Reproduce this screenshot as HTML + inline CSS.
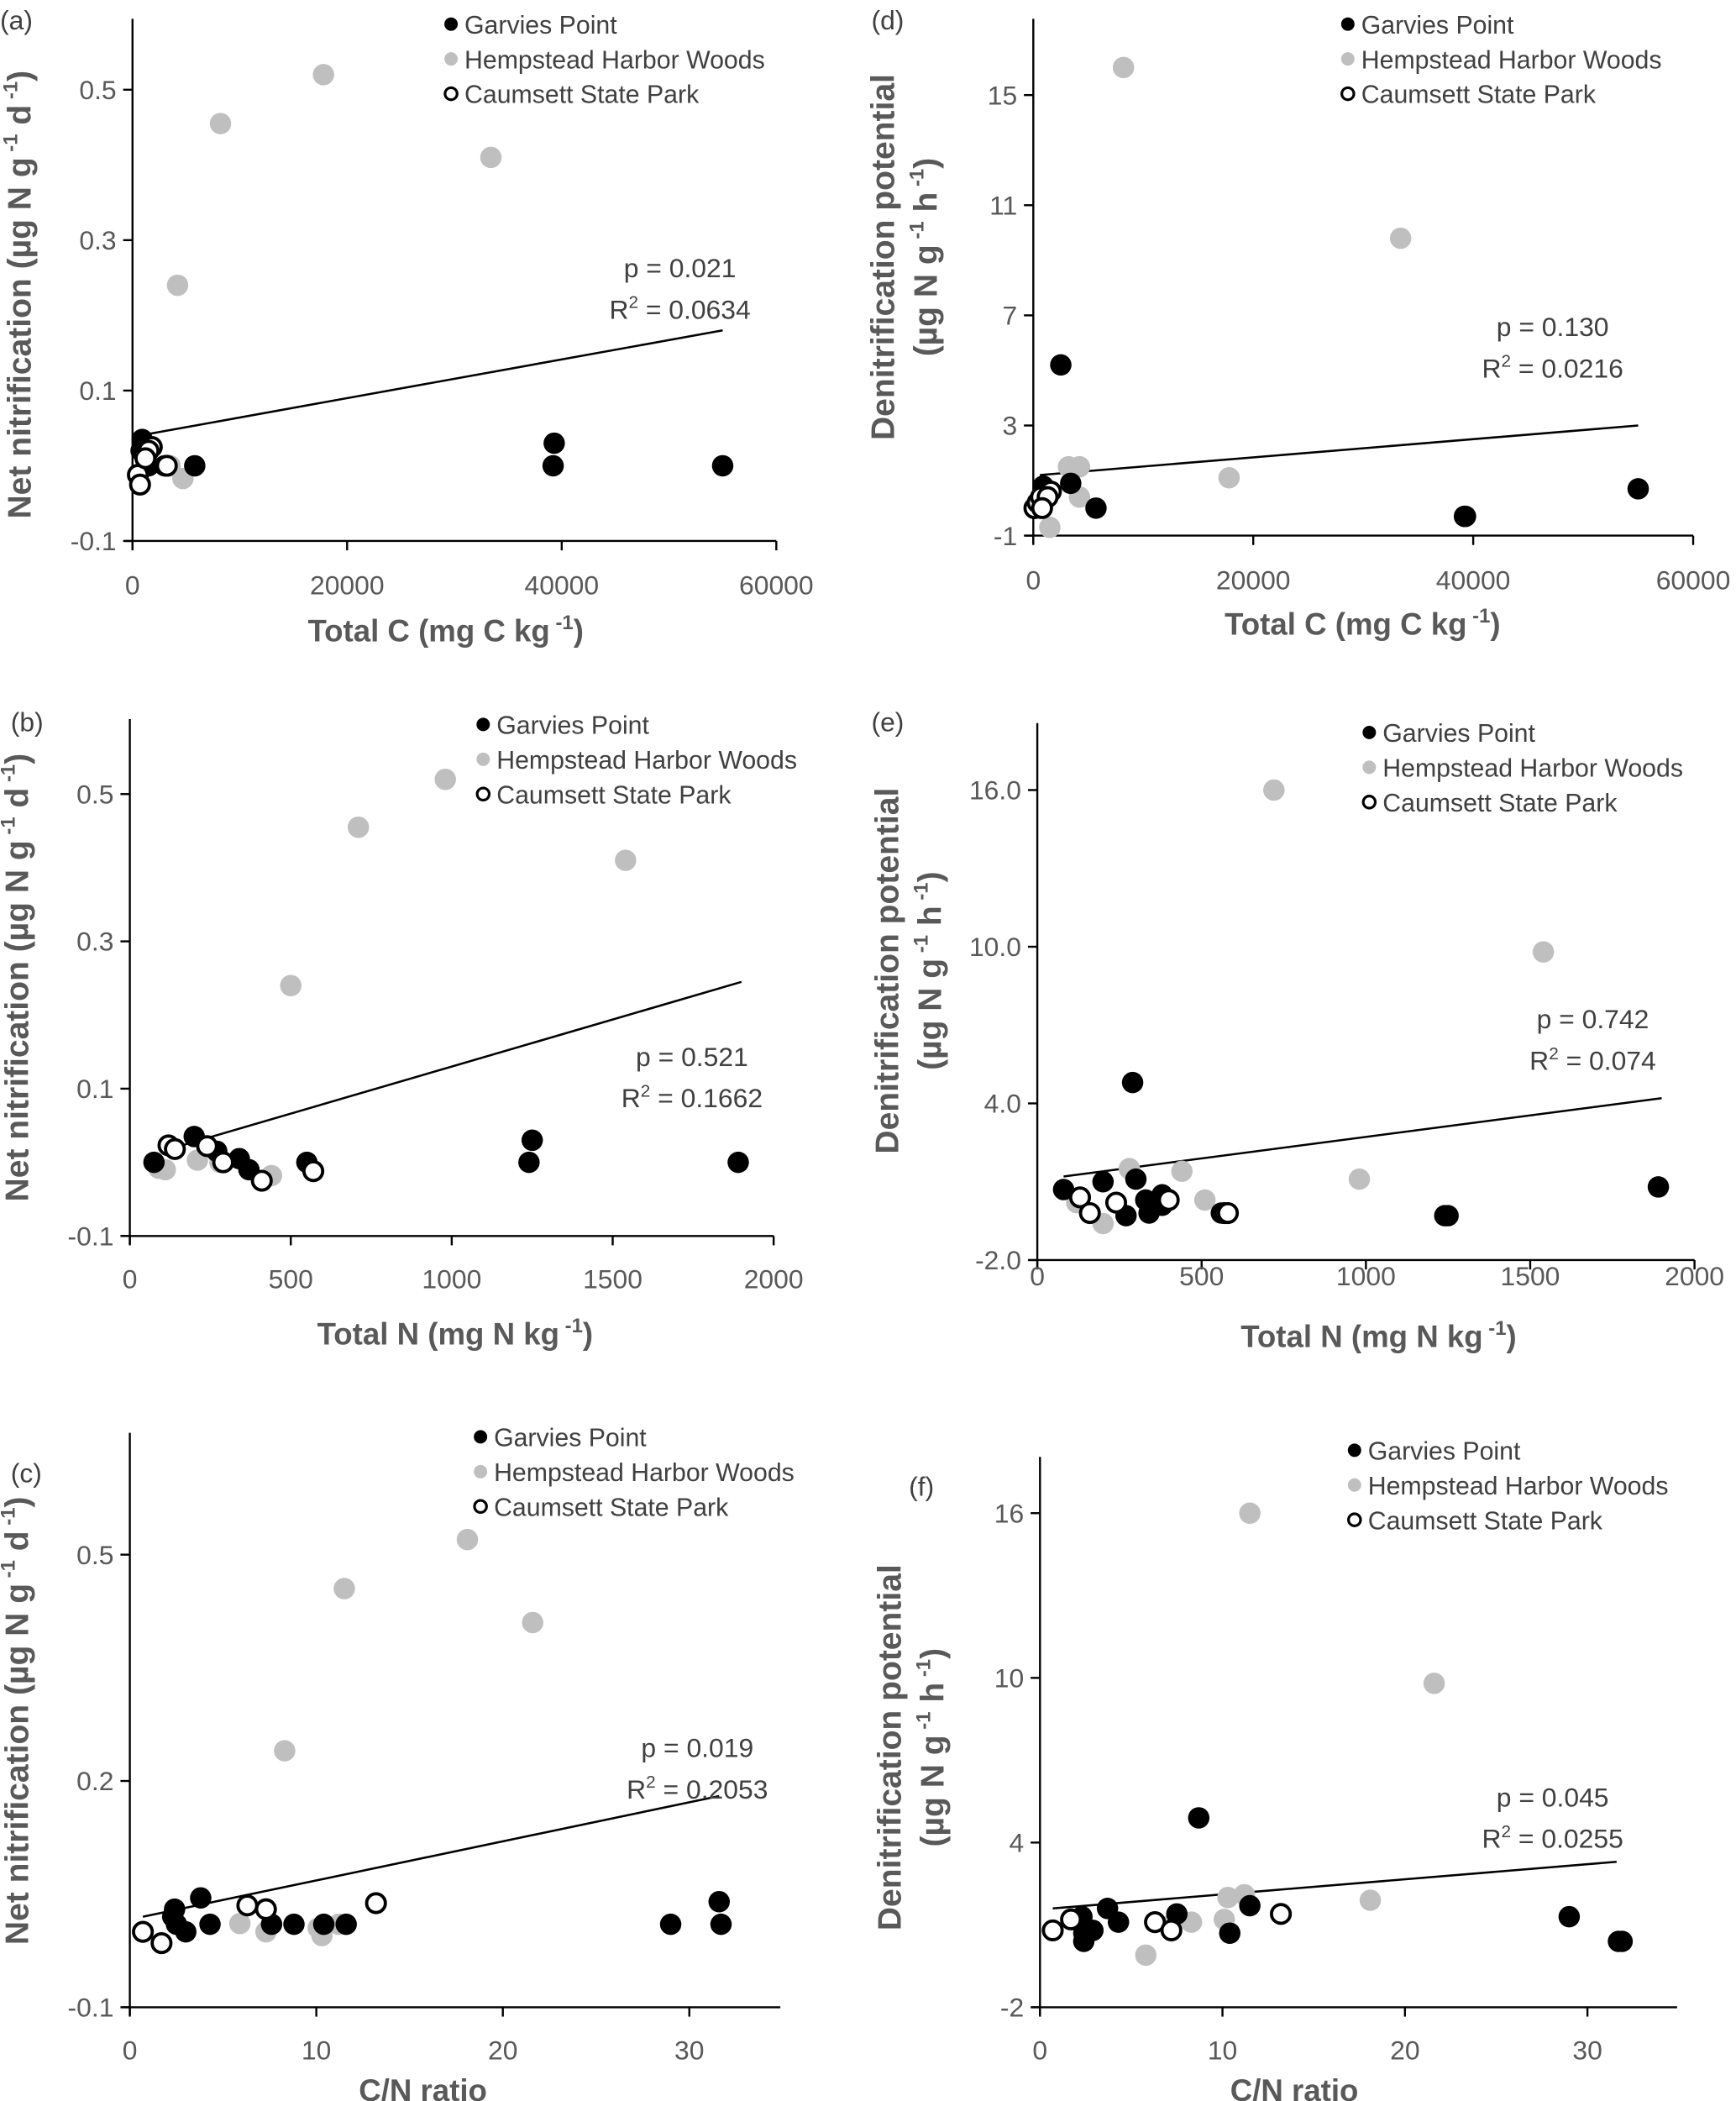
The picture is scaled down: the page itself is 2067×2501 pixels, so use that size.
<!DOCTYPE html>
<html><head><meta charset="utf-8">
<style>
html,body{margin:0;padding:0;background:#fff;}
svg{display:block;font-family:"Liberation Sans",sans-serif;}
</style></head>
<body>
<svg id="fig" width="2067" height="2501" viewBox="0 0 1297 1569" preserveAspectRatio="none" xmlns="http://www.w3.org/2000/svg"></svg>
<script>
// ---- Data (a): Total C vs Net nitrification
const aGarvies=[[39300,0.03],[39200,0.0],[55000,0.0],[5800,0.0],[900,0.035],[800,0.02],[3000,0.0],[1500,0.0]];
const aHemp=[[17800,0.52],[8200,0.455],[33400,0.41],[4200,0.24],[4700,-0.017],[3500,0.0],[1500,0.0]];
const aCaum=[[500,-0.012],[700,-0.025],[1800,0.025],[1500,0.02],[1200,0.01],[3200,0.0]];
const aTrend=[[600,0.04],[55000,0.18]];
// ---- Data (d): Total C vs Denitrification
const dGarvies=[[2500,5.2],[3400,0.9],[5700,0.0],[900,0.8],[800,0.3],[700,0.0],[1200,0.5],[39300,-0.3],[39200,-0.3],[55000,0.7]];
const dHemp=[[8200,16],[33400,9.8],[17800,1.1],[3200,1.5],[4200,1.5],[4200,0.4],[1500,-0.7],[900,0.4]];
const dCaum=[[100,0.0],[400,0.2],[700,0.4],[1600,0.6],[1300,0.4],[800,0.0]];
const dTrend=[[600,1.2],[55000,3.0]];
// ---- Data (b): Total N vs Net nitrification
const bGarvies=[[75,0.0],[200,0.035],[270,0.015],[340,0.005],[370,-0.01],[550,0.0],[1240,0.0],[1250,0.03],[1890,0.0],[290,0.0]];
const bHemp=[[980,0.52],[710,0.455],[1540,0.41],[500,0.24],[90,-0.008],[110,-0.01],[210,0.003],[280,0.0],[440,-0.018]];
const bCaum=[[120,0.023],[140,0.018],[240,0.022],[290,0.0],[410,-0.025],[570,-0.012]];
const bTrend=[[100,0.015],[1900,0.245]];
// ---- Data (e): Total N vs Denitrification
const eGarvies=[[290,4.8],[200,1.0],[300,1.1],[80,0.7],[380,0.5],[330,0.3],[350,0.0],[270,-0.3],[340,-0.2],[560,-0.2],[1240,-0.3],[1250,-0.3],[1890,0.8],[380,0.1]];
const eHemp=[[720,16],[1540,9.8],[280,1.5],[440,1.4],[980,1.1],[510,0.3],[200,-0.6],[120,0.2]];
const eCaum=[[130,0.4],[160,-0.2],[240,0.2],[400,0.3],[570,-0.2],[580,-0.2]];
const eTrend=[[80,1.2],[1900,4.2]];
// ---- Data (c): C/N vs Net nitrification
const cGarvies=[[3.8,0.045],[2.4,0.03],[2.3,0.02],[2.5,0.01],[3.0,0.0],[4.3,0.01],[7.6,0.01],[8.8,0.01],[10.4,0.01],[11.6,0.01],[29,0.01],[31.6,0.04],[31.7,0.01]];
const cHemp=[[18.1,0.52],[11.5,0.455],[21.6,0.41],[8.3,0.24],[5.9,0.011],[7.3,0.0],[10.1,0.005],[10.3,-0.005],[11.2,0.01]];
const cCaum=[[0.7,0.0],[1.7,-0.015],[6.3,0.035],[7.3,0.03],[13.2,0.038]];
const cTrend=[[0.7,0.02],[31.6,0.18]];
// ---- Data (f): C/N vs Denitrification
const fGarvies=[[8.7,4.9],[3.7,1.6],[4.3,1.1],[2.3,1.3],[2.4,0.7],[2.9,0.8],[2.4,0.4],[7.5,1.4],[10.4,0.7],[11.5,1.7],[29,1.3],[31.7,0.4],[31.9,0.4]];
const fHemp=[[11.5,16],[21.6,9.8],[10.3,2.0],[11.2,2.1],[18.1,1.9],[10.1,1.2],[8.3,1.1],[5.8,-0.1],[7.2,1.0]];
const fCaum=[[0.7,0.8],[1.7,1.2],[6.3,1.1],[7.2,0.8],[13.2,1.4]];
const fTrend=[[0.7,1.6],[31.6,3.3]];
// ---- Tick labels
const aXTicks=[0,20000,40000,60000], aYTicks=["0.5","0.3","0.1","-0.1"];
const bXTicks=[0,500,1000,1500,2000], bYTicks=["0.5","0.3","0.1","-0.1"];
const cXTicks=[0,10,20,30], cYTicks=["0.5","0.2","-0.1"];
const dXTicks=[0,20000,40000,60000], dYTicks=["15","11","7","3","-1"];
const eXTicks=[0,500,1000,1500,2000], eYTicks=["16.0","10.0","4.0","-2.0"];
const fXTicks=[0,10,20,30], fYTicks=["16","10","4","-2"];
const stats={a:["p = 0.021","0.0634"],b:["p = 0.521","0.1662"],c:["p = 0.019","0.2053"],d:["p = 0.130","0.0216"],e:["p = 0.742","0.074"],f:["p = 0.045","0.0255"]};

const NS="http://www.w3.org/2000/svg";
const svg=document.getElementById('fig');
function mk(tag,attrs,parent,text){const e=document.createElementNS(NS,tag);for(const k in attrs)e.setAttribute(k,attrs[k]);if(text!==undefined)e.textContent=text;(parent||svg).appendChild(e);return e;}

const panels=[
 {id:'a',lab:'(a)',labX:0,labY:22,px0:99,px1:580,xmin:0,xmax:60000,py0:404,py1:67,ymin:-0.1,ymax:0.5,top:14,xend:580,xt:aXTicks,yt:aYTicks.map(Number),ytl:aYTicks,
  G:aGarvies,H:aHemp,C:aCaum,T:aTrend,leg:[337,18],st:[508,200],xtitle:'Total C (mg C kg',xtX:333,xtY:479,ytY:220,twoLine:false,tickY:444},
 {id:'d',lab:'(d)',labX:651,labY:22,px0:772,px1:1265,xmin:0,xmax:60000,py0:400,py1:71,ymin:-1,ymax:15,top:14,xend:1265,xt:dXTicks,yt:dYTicks.map(Number),ytl:dYTicks,
  G:dGarvies,H:dHemp,C:dCaum,T:dTrend,leg:[1007,18],st:[1160,244],xtitle:'Total C (mg C kg',xtX:1018,xtY:474,ytY:192,twoLine:true,tickY:440},
 {id:'b',lab:'(b)',labX:8,labY:546,px0:97,px1:578,xmin:0,xmax:2000,py0:923,py1:593,ymin:-0.1,ymax:0.5,top:537,xend:578,xt:bXTicks,yt:bYTicks.map(Number),ytl:bYTicks,
  G:bGarvies,H:bHemp,C:bCaum,T:bTrend,leg:[361,541],st:[517,789],xtitle:'Total N (mg N kg',xtX:340,xtY:1004,ytY:730,twoLine:false,tickY:962},
 {id:'e',lab:'(e)',labX:651,labY:546,px0:775,px1:1266,xmin:0,xmax:2000,py0:941,py1:590,ymin:-2,ymax:16,top:540,xend:1266,xt:eXTicks,yt:eYTicks.map(Number),ytl:eYTicks,
  G:eGarvies,H:eHemp,C:eCaum,T:eTrend,leg:[1023,547],st:[1190,761],xtitle:'Total N (mg N kg',xtX:1030,xtY:1006,ytY:725,twoLine:true,tickY:960},
 {id:'c',lab:'(c)',labX:8,labY:1107,px0:97,px1:515,xmin:0,xmax:30,py0:1499,py1:1161,ymin:-0.1,ymax:0.5,top:1070,xend:583,xt:cXTicks,yt:[0.5,0.2,-0.1],ytl:cYTicks,
  G:cGarvies,H:cHemp,C:cCaum,T:cTrend,leg:[359,1073],st:[521,1305],xtitle:'C/N ratio',xtX:316,xtY:1569,ytY:1285,twoLine:false,tickY:1538,noSup:true},
 {id:'f',lab:'(f)',labX:679,labY:1117,px0:777,px1:1186,xmin:0,xmax:30,py0:1499,py1:1130,ymin:-2,ymax:16,top:1088,xend:1253,xt:fXTicks,yt:fYTicks.map(Number),ytl:fYTicks,
  G:fGarvies,H:fHemp,C:fCaum,T:fTrend,leg:[1012,1083],st:[1160,1342],xtitle:'C/N ratio',xtX:967,xtY:1569,ytY:1305,twoLine:true,tickY:1538,noSup:true}
];

panels.forEach(p=>{
  const g=mk('g',{});
  
  
  const X=v=>p.px0+(v-p.xmin)/(p.xmax-p.xmin)*(p.px1-p.px0);
  const Y=v=>p.py0+(v-p.ymin)/(p.ymax-p.ymin)*(p.py1-p.py0);
  const pl=mk('text',{x:p.labX,y:p.labY,'font-size':20,fill:'#404040'},g,p.lab);
  
  
  const ya=mk('line',{x1:p.px0,y1:p.top,x2:p.px0,y2:p.py0+6,stroke:'#000','stroke-width':1.5},g);
  
  
  const xa=mk('line',{x1:p.px0-6,y1:p.py0,x2:p.xend,y2:p.py0,stroke:'#000','stroke-width':1.5},g);
  
  
  p.xt.forEach(t=>{
    mk('line',{x1:X(t),y1:p.py0,x2:X(t),y2:p.py0+7,stroke:'#000','stroke-width':1.5},g);
    const tl=mk('text',{x:X(t),y:p.tickY,'font-size':20,fill:'#595959','text-anchor':'middle'},g,String(t));
    
    
  });
  p.yt.forEach((t,i)=>{
    mk('line',{x1:p.px0-7,y1:Y(t),x2:p.px0,y2:Y(t),stroke:'#000','stroke-width':1.5},g);
    const tl=mk('text',{x:p.px0-12,y:Y(t)+7,'font-size':20,fill:'#595959','text-anchor':'end'},g,p.ytl[i]);
    
    
  });
  const tr=mk('line',{x1:X(p.T[0][0]),y1:Y(p.T[0][1]),x2:X(p.T[1][0]),y2:Y(p.T[1][1]),stroke:'#000','stroke-width':1.6},g);
  
  
  const draw=(arr,fill,stroke,name)=>arr.forEach(d=>{
    const c=mk('circle',{cx:X(d[0]),cy:Y(d[1]),r:stroke?7:8,fill:fill,stroke:stroke||'none','stroke-width':2.4},g);
    
    
  });
  draw(p.H,'#bfbfbf',null,'point-hempstead');
  draw(p.G,'#000',null,'point-garvies');
  draw(p.C,'#fff','#000','point-caumsett');
  const names=['Garvies Point','Hempstead Harbor Woods','Caumsett State Park'];
  const styles=[['#000',null],['#bfbfbf',null],['#fff','#000']];
  names.forEach((n,i)=>{
    const ly=p.leg[1]+i*26;
    const m=mk('circle',{cx:p.leg[0],cy:ly,r:styles[i][1]?4.5:5,fill:styles[i][0],stroke:styles[i][1]||'none','stroke-width':2},g);
    
    
    const t=mk('text',{x:p.leg[0]+10,y:ly+7,'font-size':19,fill:'#404040'},g,n);
    
    
  });
  const s1=mk('text',{x:p.st[0],y:p.st[1]+7,'font-size':20,fill:'#404040','text-anchor':'middle'},g,stats[p.id][0]);
  
  
  const s2=mk('text',{x:p.st[0],y:p.st[1]+38,'font-size':20,fill:'#404040','text-anchor':'middle'},g);
  
  
  s2.appendChild(document.createTextNode('R'));
  mk('tspan',{'font-size':13,dy:-8},s2,'2');
  mk('tspan',{dy:8},s2,' = '+stats[p.id][1]);
  const xt=mk('text',{x:p.xtX,y:p.xtY,'font-size':23,'font-weight':'bold',fill:'#595959','text-anchor':'middle'},g);
  
  
  xt.appendChild(document.createTextNode(p.xtitle));
  if(!p.noSup){mk('tspan',{'font-size':15,dy:-9},xt,' -1');mk('tspan',{dy:9},xt,')');}
  if(p.twoLine){
    const y1=mk('text',{x:0,y:0,'font-size':24.5,'font-weight':'bold',fill:'#595959','text-anchor':'middle',transform:`translate(${p.px0-104},${p.ytY}) rotate(-90)`},g,'Denitrification potential');
    
    
    const y2=mk('text',{x:0,y:0,'font-size':24.5,'font-weight':'bold',fill:'#595959','text-anchor':'middle',transform:`translate(${p.px0-72},${p.ytY}) rotate(-90)`},g);
    
    
    y2.appendChild(document.createTextNode('(µg N g'));
    mk('tspan',{'font-size':15,dy:-10},y2,' -1');
    mk('tspan',{dy:10},y2,' h');
    mk('tspan',{'font-size':15,dy:-10},y2,' -1');
    mk('tspan',{dy:10},y2,')');
  } else {
    const y1=mk('text',{x:0,y:0,'font-size':24.5,'font-weight':'bold',fill:'#595959','text-anchor':'middle',transform:`translate(${p.px0-76},${p.ytY}) rotate(-90)`},g);
    
    
    y1.appendChild(document.createTextNode('Net nitrification (µg N g'));
    mk('tspan',{'font-size':15,dy:-10},y1,' -1');
    mk('tspan',{dy:10},y1,' d');
    mk('tspan',{'font-size':15,dy:-10},y1,' -1');
    mk('tspan',{dy:10},y1,')');
  }
});
</script>
</body></html>
